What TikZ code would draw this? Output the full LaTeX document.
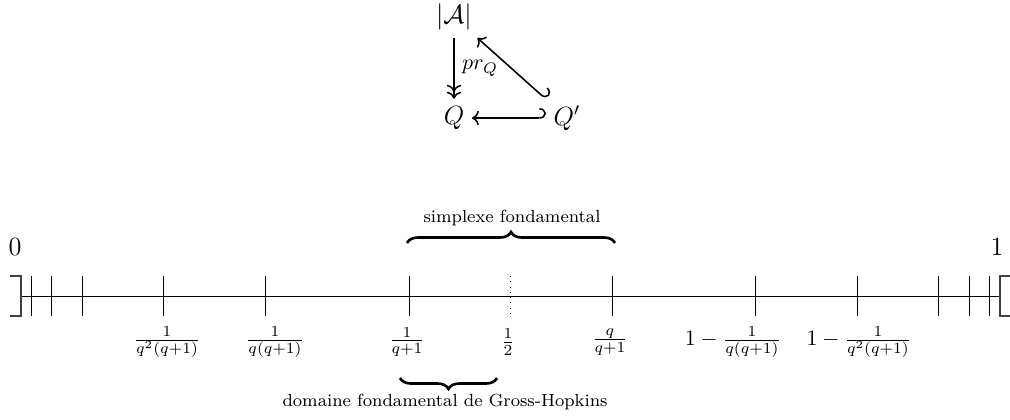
\documentclass[tikz,border=0pt]{standalone}
\usepackage{amsmath}
\usetikzlibrary{arrows.meta,decorations.pathreplacing}

\begin{document}
\begin{tikzpicture}[x=1.6cm, y=1.6cm, line width=0.4pt,
  tick/.style={line width=0.4pt},
  bracket/.style={semithick, black!75},
  accolade/.style={decorate, decoration={brace, amplitude=5pt}, very thick},
  fleche/.style={line width=0.7pt}]
\useasboundingbox (-5.10,-1.23) rectangle (5.00,2.96);

% the little diagram on top
\node[font=\large] (A) at (-0.56,2.79) {$|\mathcal{A}|$};
\node[font=\large] (Q) at (-0.56,1.78) {$Q$};
\node[font=\large] (Qp) at (0.57,1.78) {$Q'$};

\draw[fleche, -{To[]To[]}] (A) -- node[right] {$pr_Q$} (Q);
\draw[fleche, {Hooks[left, width=9pt, length=3pt]}-{To[]}] (Qp) -- (Q);
\draw[fleche, {Hooks[left, width=9pt, length=3pt]}-{To[]}] (Qp) -- (A);

% the segment [0,1]
\coordinate (L) at (-4.89,0);
\coordinate (R) at (4.90,0);
\draw (L) -- (R);
\draw[bracket] (-5.00,0.2) -- (-4.89,0.2) -- (-4.89,-0.2) -- (-5.00,-0.2);
\draw[bracket] (5.02,0.2) -- (4.90,0.2) -- (4.90,-0.2) -- (5.02,-0.2);

\foreach \x in {-4.79,-4.59,-4.28,-3.47,-2.45,-1.01,1.02,2.45,3.47,4.28,4.59,4.79}
  \draw[tick] (\x,0.2) -- (\x,-0.2);
\draw[dotted] (0,0.2) -- (0,-0.2);

\node[font=\large] (zero) at (-4.95,0.49) {$0$};
\node[font=\large] (one) at (4.87,0.49) {$1$};

\node (a1) at (-3.43,-0.46) {$\frac{1}{q^2(q+1)}$};
\node (a2) at (-2.35,-0.46) {$\frac{1}{q(q+1)}$};
\node (a3) at (-1.03,-0.46) {$\frac{1}{q+1}$};
\node (half) at (-0.02,-0.46) {$\frac{1}{2}$};
\node (b3) at (1.00,-0.46) {$\frac{q}{q+1}$};
\node (b2) at (2.23,-0.46) {$1-\frac{1}{q(q+1)}$};
\node (b1) at (3.49,-0.46) {$1-\frac{1}{q^2(q+1)}$};

% braces
\draw[accolade] (-1.03,0.53) -- (1.05,0.53);
\node (simplexe) at (0.02,0.78) {\footnotesize simplexe fondamental};

\draw[accolade, decoration={mirror}] (-1.10,-0.82) -- (-0.13,-0.82);
\node (gh) at (-0.65,-1.06) {\footnotesize domaine fondamental de Gross-Hopkins};

\end{tikzpicture}
\end{document}
